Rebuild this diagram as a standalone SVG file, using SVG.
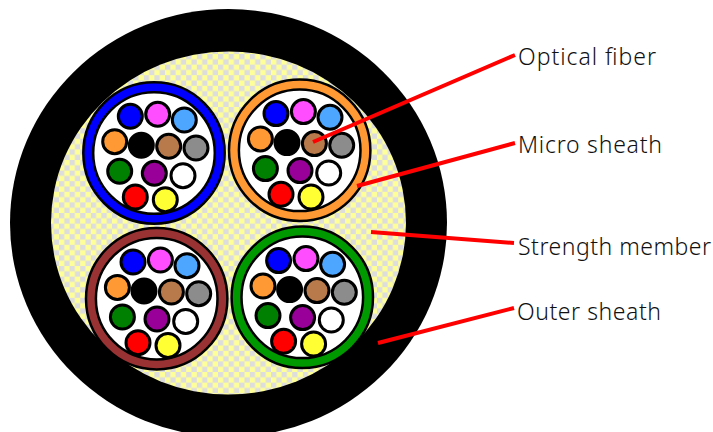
<svg xmlns="http://www.w3.org/2000/svg" width="713" height="432" viewBox="0 0 713 432">
<style>
.f{stroke:#000;stroke-width:3}
.lead{stroke:#f00;stroke-width:4;fill:none;stroke-linecap:butt}
.lbl{font-family:"Noto Sans","Liberation Sans",sans-serif;font-size:23px;fill:#111;font-weight:300}
.ring{stroke:#000;stroke-width:2.5}
</style>
<defs>
<pattern id="chk" width="10.6" height="10.6" patternUnits="userSpaceOnUse" x="6" y="1">
<rect width="10.6" height="10.6" fill="#ffff99"/>
<rect width="5.3" height="5.3" fill="#dddddd"/>
<rect x="5.3" y="5.3" width="5.3" height="5.3" fill="#dddddd"/>
</pattern>
<g id="fibers">
<circle class="f" cx="-23.7" cy="-36.7" r="12" fill="#0000ff"/>
<circle class="f" cx="3.7" cy="-38.7" r="12" fill="#ff4dff"/>
<circle class="f" cx="30.3" cy="-33" r="12" fill="#4da6ff"/>
<circle class="f" cx="-39.3" cy="-11.3" r="12" fill="#ff9933"/>
<circle class="f" cx="-12.7" cy="-7.7" r="12" fill="#000000"/>
<circle class="f" cx="14.7" cy="-6.7" r="12" fill="#b87a4b"/>
<circle class="f" cx="42" cy="-5" r="12" fill="#8c8c8c"/>
<circle class="f" cx="-34.3" cy="18.3" r="12" fill="#008000"/>
<circle class="f" cx="0.3" cy="20.3" r="12" fill="#990099"/>
<circle class="f" cx="29" cy="22.7" r="12" fill="#ffffff"/>
<circle class="f" cx="-18.7" cy="44" r="12" fill="#ff0000"/>
<circle class="f" cx="11.3" cy="46.7" r="12" fill="#ffff33"/>
</g>
</defs>
<rect width="713" height="432" fill="#fff"/>
<g id="cable">
<ellipse cx="228.5" cy="223" rx="218.5" ry="214" fill="#000"/>
<ellipse cx="228.5" cy="223" rx="177.5" ry="171.5" fill="url(#chk)"/>
</g>
<g id="tube-blue" transform="translate(154 153)">
<circle class="ring" r="70.7" fill="#0000ff"/>
<circle class="ring" r="60.8" fill="#fff"/>
<use href="#fibers"/>
</g>
<g id="tube-orange" transform="translate(299.7 150.3)">
<circle class="ring" r="70.7" fill="#ff9933"/>
<circle class="ring" r="60.8" fill="#fff"/>
<use href="#fibers"/>
</g>
<g id="tube-brown" transform="translate(156.7 298.7)">
<circle class="ring" r="70.7" fill="#993333"/>
<circle class="ring" r="60.8" fill="#fff"/>
<use href="#fibers"/>
</g>
<g id="tube-green" transform="translate(302.3 297.3)">
<circle class="ring" r="70.7" fill="#009900"/>
<circle class="ring" r="60.8" fill="#fff"/>
<use href="#fibers"/>
</g>
<g id="connectors">
<line class="lead" x1="313" y1="142" x2="515" y2="55"/>
<line class="lead" x1="357" y1="186" x2="515" y2="143"/>
<line class="lead" x1="371" y1="232" x2="514" y2="243"/>
<line class="lead" x1="378" y1="343" x2="514" y2="308"/>
</g>
<g id="labels">
<text class="lbl" x="518" y="65" textLength="138" lengthAdjust="spacing">Optical fiber</text>
<text class="lbl" x="518" y="153" textLength="144" lengthAdjust="spacing">Micro sheath</text>
<text class="lbl" x="518" y="254.5" textLength="193" lengthAdjust="spacing">Strength member</text>
<text class="lbl" x="517" y="320" textLength="144" lengthAdjust="spacing">Outer sheath</text>
</g>
</svg>
